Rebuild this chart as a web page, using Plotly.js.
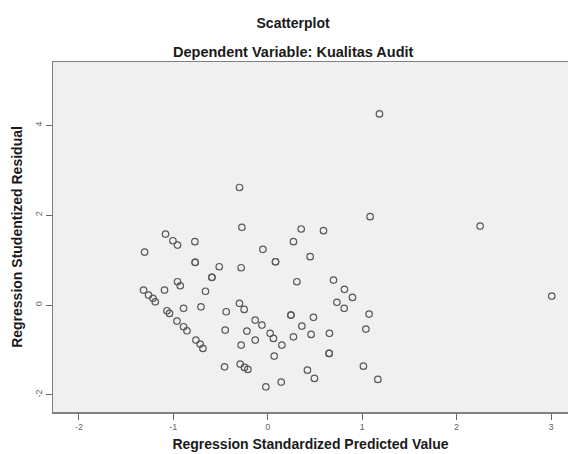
<!DOCTYPE html>
<html>
<head>
<meta charset="utf-8">
<script src="https://cdn.plot.ly/plotly-3.0.1.min.js"></script>
<style>html,body{margin:0;padding:0;background:#fff;}#chart{width:568px;height:454px;}</style>
</head>
<body>
<div id="chart"></div>
<script>
// Regression Standardized Predicted Value
var predicted = [
  1.183, -0.300, -0.274, -1.083, -1.005, -0.956, -0.772, -1.305, -0.052, -0.769,
  -0.769, 0.082, 0.082, -0.514, -0.282, -0.592, -0.592, -0.956, -0.927, -1.094,
  -0.660, -1.316, -1.263, -1.216, -1.192, -1.068, -1.041, -0.892, -0.708, -0.962,
  -0.892, -0.856, -0.761, -0.716, -0.687, -0.440, -0.451, -0.300, -0.250, -0.221,
  -0.133, -0.062, -0.133, 0.025, 0.060, -0.282, -0.458, -0.292, -0.247, -0.211,
  -0.020, 0.068, 1.084, 0.354, 0.590, 0.272, 0.449, 0.308, 0.696, 0.812,
  0.897, 0.732, 0.809, 1.073, 0.245, 0.245, 0.484, 0.361, 0.272, 0.459,
  0.653, 0.149, 0.650, 0.650, 1.039, 1.013, 0.420, 0.494, 1.166, 0.142,
  2.249, 3.008
];
// Regression Studentized Residual
var residual = [
  4.254, 2.617, 1.731, 1.581, 1.432, 1.336, 1.410, 1.180, 1.241, 0.951,
  0.951, 0.964, 0.964, 0.853, 0.831, 0.617, 0.617, 0.519, 0.430, 0.334,
  0.307, 0.334, 0.223, 0.149, 0.073, -0.127, -0.185, -0.073, -0.038, -0.356,
  -0.483, -0.572, -0.780, -0.869, -0.964, -0.149, -0.557, 0.038, -0.096, -0.579,
  -0.334, -0.445, -0.780, -0.630, -0.742, -0.891, -1.374, -1.314, -1.388, -1.432,
  -1.820, -1.136, 1.967, 1.693, 1.655, 1.410, 1.076, 0.519, 0.557, 0.350,
  0.171, 0.062, -0.073, -0.200, -0.223, -0.223, -0.272, -0.468, -0.706, -0.653,
  -0.630, -0.891, -1.076, -1.076, -0.535, -1.359, -1.448, -1.633, -1.655, -1.715,
  1.759, 0.200
];
var xTicks = [-2, -1, 0, 1, 2, 3];
var yTicks = [-2, 0, 2, 4];
var mainTitle = 'Scatterplot';
var subTitle = 'Dependent Variable: Kualitas Audit';
var xTitle = 'Regression Standardized Predicted Value';
var yTitle = 'Regression Studentized Residual';

var font = 'Liberation Sans, Arial, sans-serif';

var trace = {
  type: 'scatter',
  mode: 'markers',
  x: predicted,
  y: residual,
  marker: {
    symbol: 'circle-open',
    size: 6.5,
    color: '#5a5a5a',
    line: {width: 1.2, color: '#5a5a5a'}
  },
  hoverinfo: 'x+y'
};

var layout = {
  width: 568,
  height: 454,
  margin: {l: 53, r: 0, t: 62, b: 42, pad: 0},
  paper_bgcolor: '#ffffff',
  plot_bgcolor: '#f0f0f0',
  showlegend: false,
  font: {family: font, color: '#222'},
  title: {
    text: '<b>' + mainTitle + '</b>',
    font: {family: font, size: 14, color: '#1a1a1a'},
    x: 0.516,
    xanchor: 'center',
    y: 1 - 23 / 454,
    yanchor: 'middle',
    xref: 'container',
    yref: 'container'
  },
  annotations: [{
    text: '<b>' + subTitle + '</b>',
    font: {family: font, size: 14.5, color: '#1a1a1a'},
    xref: 'paper',
    yref: 'paper',
    x: (293 - 53) / 515,
    y: 1 + 10 / 350,
    xanchor: 'center',
    yanchor: 'middle',
    showarrow: false
  }],
  xaxis: {
    range: [-2.275, 3.18],
    tickvals: xTicks,
    ticktext: xTicks.map(String),
    ticks: 'outside',
    ticklen: 6,
    tickwidth: 1,
    tickcolor: '#666',
    tickfont: {family: font, size: 9, color: '#666'},
    showgrid: false,
    zeroline: false,
    showline: true,
    linecolor: '#808080',
    linewidth: 1.5,
    mirror: true,
    title: {
      text: '<b>' + xTitle + '</b>',
      font: {family: font, size: 14, color: '#1a1a1a'},
      standoff: 8
    },
    automargin: false,
    fixedrange: true
  },
  yaxis: {
    range: [-2.38, 5.41],
    tickvals: yTicks,
    ticktext: yTicks.map(String),
    ticks: 'outside',
    ticklen: 6,
    tickwidth: 1,
    tickcolor: '#666',
    tickangle: -90,
    tickfont: {family: font, size: 9, color: '#666'},
    showgrid: false,
    zeroline: false,
    showline: true,
    linecolor: '#808080',
    linewidth: 1.5,
    mirror: false,
    title: {
      text: '<b>' + yTitle + '</b>',
      font: {family: font, size: 14, color: '#1a1a1a'},
      standoff: 8
    },
    automargin: false,
    fixedrange: true
  }
};

Plotly.newPlot('chart', [trace], layout, {displayModeBar: false, staticPlot: true});
</script>
</body>
</html>
